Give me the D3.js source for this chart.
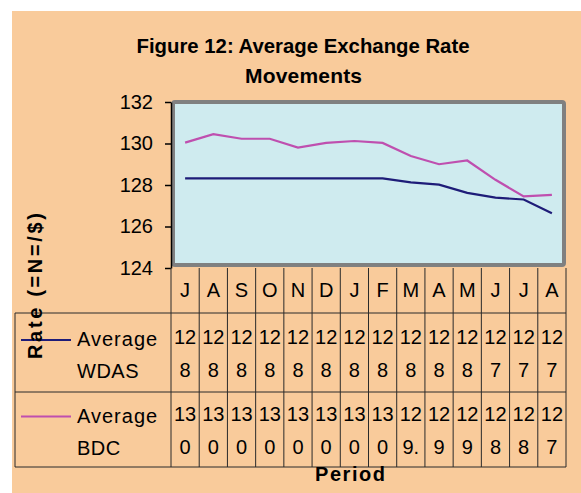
<!DOCTYPE html>
<html>
<head>
<meta charset="utf-8">
<script src="https://cdn.jsdelivr.net/npm/d3@7"></script>
<style>
  body { margin: 0; background: #fff; }
  svg text { font-family: "Liberation Sans", Arial, sans-serif; fill: #000; }
</style>
</head>
<body>
<svg id="chart" width="581" height="493"></svg>
<script>
// Average exchange rate data (=N=/$)
const months = ['J', 'A', 'S', 'O', 'N', 'D', 'J', 'F', 'M', 'A', 'M', 'J', 'J', 'A'];
const wdas = [128.32, 128.32, 128.32, 128.32, 128.32, 128.32, 128.32, 128.32, 128.13, 128.02, 127.62, 127.39, 127.30, 126.64];
const bdc = [130.04, 130.45, 130.23, 130.23, 129.80, 130.03, 130.12, 130.03, 129.40, 129.00, 129.18, 128.25, 127.45, 127.52];
const wdasLabels = ['128', '128', '128', '128', '128', '128', '128', '128', '128', '128', '128', '127', '127', '127'];
const bdcLabels = ['130', '130', '130', '130', '130', '130', '130', '130', '129.4', '129', '129', '128', '128', '127'];
const yTicks = [124, 126, 128, 130, 132];

const svg = d3.select('#chart');

// Chart background
svg.append('rect')
    .attr('x', 12).attr('y', 11)
    .attr('width', 569).attr('height', 482)
    .attr('fill', '#F9CB9B');

// Scales
const x = d3.scaleBand()
    .domain(d3.range(months.length))
    .range([171, 566]);
const y = d3.scaleLinear()
    .domain([124, 132])
    .range([268, 102]);
const cx = i => x(i) + x.bandwidth() / 2;

// Plot area
svg.append('rect')
    .attr('x', 173).attr('y', 102)
    .attr('width', 391).attr('height', 163)
    .attr('rx', 2)
    .attr('fill', '#CFEBEF')
    .attr('stroke', '#808080')
    .attr('stroke-width', 4);

// Title
svg.append('text')
    .attr('x', 303).attr('y', 53)
    .attr('text-anchor', 'middle')
    .attr('font-size', 21).attr('font-weight', 'bold')
    .attr('textLength', 333).attr('lengthAdjust', 'spacingAndGlyphs')
    .text('Figure 12: Average Exchange Rate');
svg.append('text')
    .attr('x', 303.5).attr('y', 83)
    .attr('text-anchor', 'middle')
    .attr('font-size', 21).attr('font-weight', 'bold')
    .attr('textLength', 117).attr('lengthAdjust', 'spacing')
    .text('Movements');

// Y axis
const yAxis = svg.append('g')
    .attr('transform', 'translate(171,0)')
    .call(d3.axisLeft(y).tickValues(yTicks).tickSize(6).tickSizeOuter(0).tickPadding(12));
yAxis.select('.domain').attr('stroke', '#000').attr('stroke-width', 1.5);
yAxis.selectAll('.tick line').attr('stroke', '#000').attr('stroke-width', 1.5);
yAxis.selectAll('.tick text')
    .attr('font-size', 20)
    .attr('font-family', '"Liberation Sans", Arial, sans-serif');

// Series lines
const line = data => d3.line()
    .x((d, i) => cx(i))
    .y(d => y(d))(data);

svg.append('path')
    .attr('d', line(bdc))
    .attr('fill', 'none')
    .attr('stroke', '#BF4FAF')
    .attr('stroke-width', 2.2);
svg.append('path')
    .attr('d', line(wdas))
    .attr('fill', 'none')
    .attr('stroke', '#1E1C78')
    .attr('stroke-width', 2.2);

// Data table
const tbl = svg.append('g').attr('stroke', '#2a2a2a').attr('stroke-width', 1);
const rowTop = 313, rowMid = 392, rowBot = 467, left = 15, right = 566;
[rowTop, rowMid, rowBot].forEach(yy => {
    tbl.append('line').attr('x1', left).attr('x2', right).attr('y1', yy).attr('y2', yy);
});
tbl.append('line').attr('x1', left).attr('x2', left).attr('y1', rowTop).attr('y2', rowBot);
d3.range(months.length + 1).forEach(i => {
    const xx = i < months.length ? x(i) : x.range()[1];
    tbl.append('line').attr('x1', xx).attr('x2', xx).attr('y1', 268).attr('y2', rowBot);
});

// Month labels
svg.append('g').selectAll('text')
    .data(months)
    .join('text')
    .attr('x', (d, i) => cx(i))
    .attr('y', 297)
    .attr('text-anchor', 'middle')
    .attr('font-size', 20)
    .text(d => d);

// Table values, wrapped in two lines like the narrow cells
function cellText(labels, y1, y2) {
    const g = svg.append('g');
    labels.forEach((s, i) => {
        g.append('text')
            .attr('x', cx(i)).attr('y', y1)
            .attr('text-anchor', 'middle').attr('font-size', 20)
            .text(s.slice(0, 2));
        g.append('text')
            .attr('x', cx(i)).attr('y', y2)
            .attr('text-anchor', 'middle').attr('font-size', 20)
            .text(s.slice(2, 4));
    });
}
cellText(wdasLabels, 344, 377);
cellText(bdcLabels, 421, 454);

// Legend keys in table
svg.append('line')
    .attr('x1', 21).attr('x2', 71).attr('y1', 340).attr('y2', 340)
    .attr('stroke', '#1E1C78').attr('stroke-width', 2.2);
svg.append('line')
    .attr('x1', 21).attr('x2', 71).attr('y1', 416.5).attr('y2', 416.5)
    .attr('stroke', '#BF4FAF').attr('stroke-width', 2.2);

const legendText = [['Average', 346], ['WDAS', 378], ['Average', 422.5], ['BDC', 455]];
legendText.forEach(([t, yy]) => {
    svg.append('text')
        .attr('x', 77).attr('y', yy)
        .attr('font-size', 20)
        .attr('letter-spacing', t === 'Average' ? 1 : 0.5)
        .text(t);
});

// Axis titles
svg.append('text')
    .attr('transform', 'translate(42,286) rotate(-90)')
    .attr('text-anchor', 'middle')
    .attr('font-size', 20).attr('font-weight', 'bold')
    .attr('textLength', 146).attr('lengthAdjust', 'spacing')
    .text('Rate (=N=/$)');
svg.append('text')
    .attr('x', 350).attr('y', 481)
    .attr('text-anchor', 'middle')
    .attr('font-size', 20).attr('font-weight', 'bold')
    .attr('textLength', 70).attr('lengthAdjust', 'spacing')
    .text('Period');
</script>
</body>
</html>
